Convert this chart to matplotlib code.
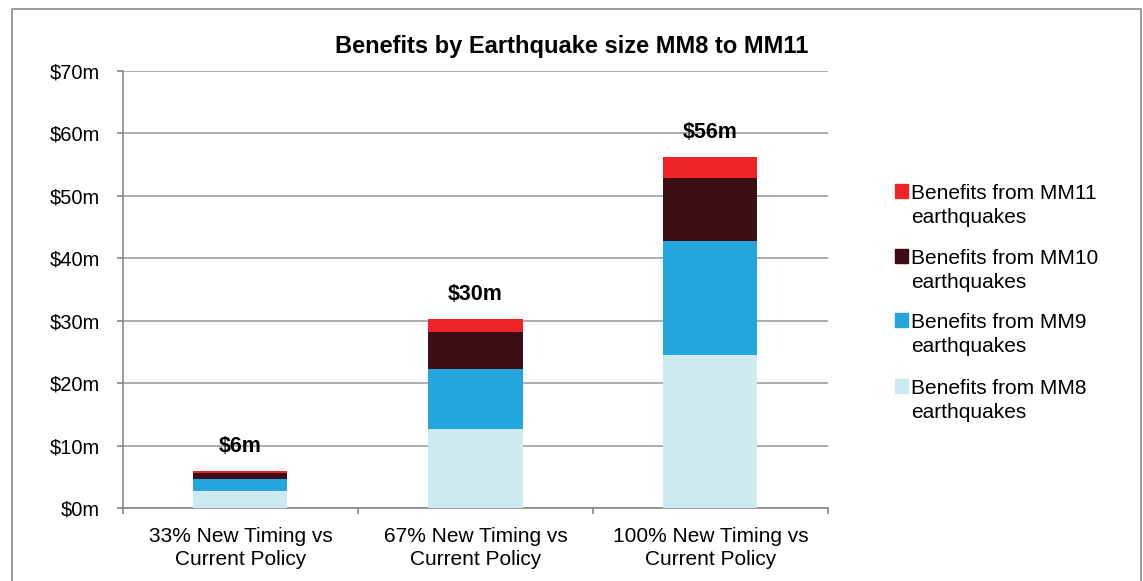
import numpy as np
import matplotlib
matplotlib.use('Agg')
import matplotlib.pyplot as plt
from matplotlib.patches import Rectangle
from matplotlib.ticker import FuncFormatter, MultipleLocator

# ── Data ($m) ────────────────────────────────────────────────────────────────
categories = ['33% New Timing vs\nCurrent Policy',
              '67% New Timing vs\nCurrent Policy',
              '100% New Timing vs\nCurrent Policy']
mm8  = [2.7, 12.7, 24.5]
mm9  = [1.9, 9.6, 18.2]
mm10 = [1.0, 5.9, 10.2]
mm11 = [0.3, 2.1, 3.3]

series_labels = ['Benefits from MM8\nearthquakes',
                 'Benefits from MM9\nearthquakes',
                 'Benefits from MM10\nearthquakes',
                 'Benefits from MM11\nearthquakes']
colors = ['#CDEAF0', '#25A5DE', '#3C0D15', '#EE2427']

plt.rcParams['font.family'] = ['Liberation Sans', 'DejaVu Sans']

W, H = 1143, 581
fig = plt.figure(figsize=(W / 100, H / 100), dpi=100)
ax = fig.add_axes([123 / W, 1 - 508 / H, 705 / W, 437 / H])

# outer chart frame
fig.patches.append(Rectangle((12 / W, -0.05), 1129 / W, 1.05 - 9 / H,
                             transform=fig.transFigure, fill=False,
                             edgecolor='#8c8c8c', linewidth=1.2))

x = np.arange(len(categories))
bottom = np.zeros(len(categories))
for vals, col in zip([mm8, mm9, mm10, mm11], colors):
    ax.bar(x, vals, width=0.4, bottom=bottom, color=col, zorder=3)
    bottom += np.array(vals)

# total labels above each stack
for xi, tot in zip(x, bottom):
    ax.annotate(f'${tot:.0f}m', xy=(xi, tot), xytext=(0, 17.5),
                textcoords='offset points', ha='center', va='center',
                fontsize=15.5, fontweight='bold', zorder=5)

ax.set_xlim(-0.5, 2.5)
ax.set_ylim(0, 70)
ax.yaxis.set_major_locator(MultipleLocator(10))
ax.yaxis.set_major_formatter(FuncFormatter(lambda v, p: f'${v:.0f}m'))
ax.grid(True, axis='y', color='#a0a0a0', linewidth=1.2, zorder=0)

ax.set_xticks(x)
ax.set_xticklabels(categories, fontsize=15, linespacing=1.22)
ax.set_xticks([-0.5, 0.5, 1.5, 2.5], minor=True)
ax.tick_params(axis='x', which='major', length=0, pad=14)
ax.tick_params(axis='x', which='minor', length=4, width=1.2, color='#888888', direction='out')
ax.tick_params(axis='y', length=4, width=1.2, color='#888888', labelsize=14.5, pad=12.5)

for side in ['top', 'right']:
    ax.spines[side].set_visible(False)
for side in ['left', 'bottom']:
    ax.spines[side].set_color('#888888')
    ax.spines[side].set_linewidth(1.2)

fig.text(0.5, 1 - 46 / H, 'Benefits by Earthquake size MM8 to MM11',
         ha='center', va='center', fontsize=17, fontweight='bold')

# legend, top entry first (MM11 down to MM8); square sits on the first line
legend_baselines = [198, 263, 327, 393]
line_step = 24.7
for lab, col, yb in zip(series_labels[::-1], colors[::-1], legend_baselines):
    fig.patches.append(Rectangle((895 / W, 1 - yb / H), 13 / W, 14 / H,
                                 transform=fig.transFigure, color=col))
    fig.text(911 / W, 1 - (yb + line_step) / H, lab, ha='left', va='baseline',
             fontsize=15, linespacing=1.32)

fig.savefig('out.png', dpi=100, facecolor='white')
